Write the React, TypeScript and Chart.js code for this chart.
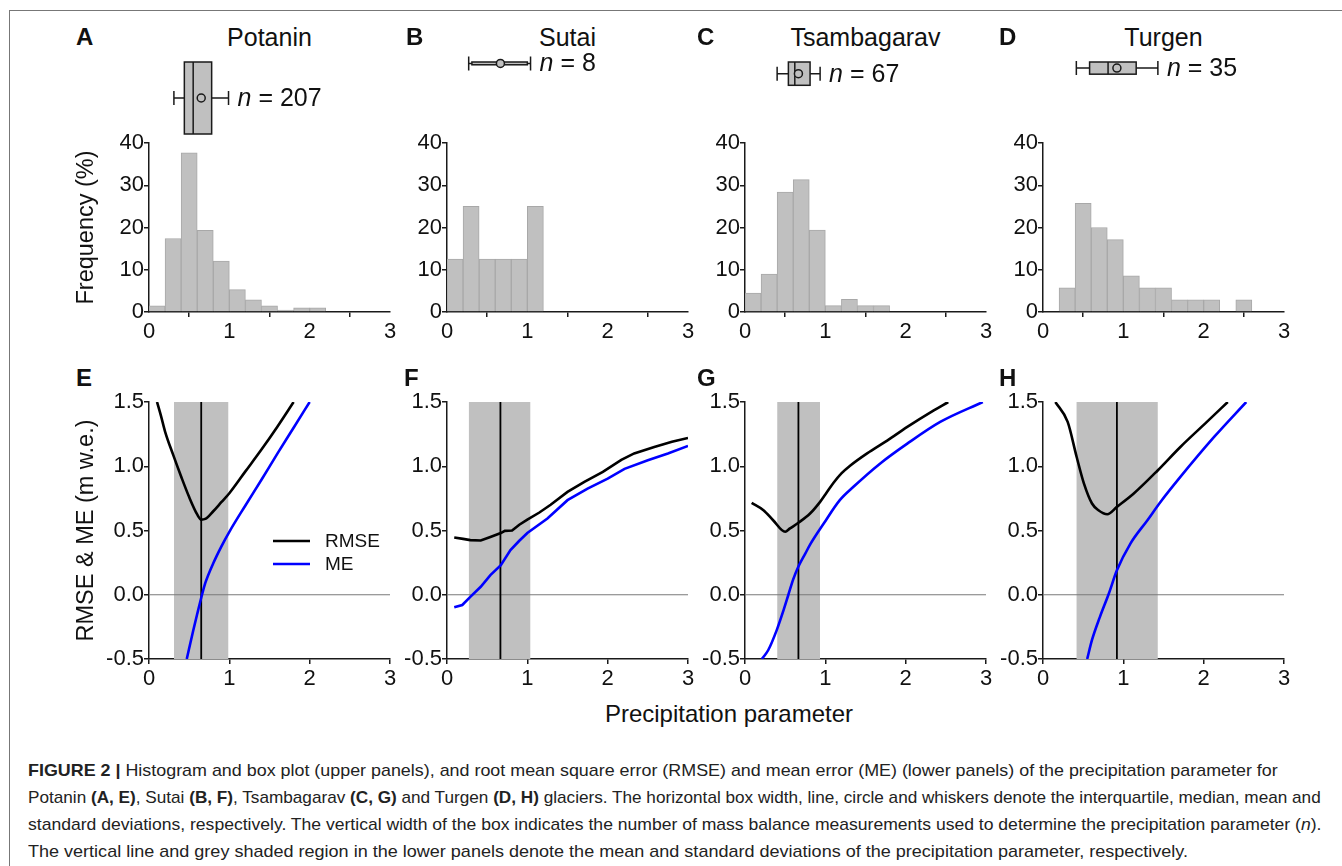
import React, { useEffect, useLayoutEffect, useRef } from 'react';
import { Chart, registerables } from 'chart.js';
Chart.register(...registerables);

const FONT = "'Liberation Sans', Arial, Helvetica, sans-serif";
const AXIS = '#1a1a1a';
const TXT = '#111111';
const BAR = '#c0c0c0';
const BAR_EDGE = '#a8a8a8';

// ---------------- data ----------------
const glaciers = ['Potanin', 'Sutai', 'Tsambagarav', 'Turgen'];
const upperLetters = ['A', 'B', 'C', 'D'];
const lowerLetters = ['E', 'F', 'G', 'H'];
const sampleCounts = [207, 8, 67, 35];

const binCenters = [0.1, 0.3, 0.5, 0.7, 0.9, 1.1, 1.3, 1.5, 1.7, 1.9, 2.1, 2.3, 2.5, 2.7, 2.9];
const freqPotanin = [1.45, 17.39, 37.68, 19.32, 12.08, 5.31, 2.9, 1.45, 0.48, 0.97, 0.97, 0, 0, 0, 0];
const freqSutai = [12.5, 25, 12.5, 12.5, 12.5, 25, 0, 0, 0, 0, 0, 0, 0, 0, 0];
const freqTsambagarav = [4.48, 8.96, 28.36, 31.34, 19.4, 1.49, 2.99, 1.49, 1.49, 0, 0, 0, 0, 0, 0];
const freqTurgen = [0, 5.71, 25.71, 20.0, 17.14, 8.57, 5.71, 5.71, 2.86, 2.86, 2.86, 0, 2.86, 0, 0];
const frequencies = [freqPotanin, freqSutai, freqTsambagarav, freqTurgen];

// box plot statistics (precipitation parameter)
const paramMean = [0.65, 0.665, 0.665, 0.92];
const sdLow = [0.31, 0.27, 0.4, 0.415];
const sdHigh = [0.99, 1.04, 0.935, 1.43];
const quart1 = [0.44, 0.31, 0.54, 0.58];
const medians = [0.55, 0.65, 0.62, 0.81];
const quart3 = [0.78, 1.0, 0.81, 1.16];

// RMSE / ME curves
const rmseXPotanin = [0.1, 0.15, 0.2, 0.3, 0.4, 0.5, 0.6, 0.65, 0.7, 0.8, 0.9, 1.0, 1.2, 1.4, 1.6, 1.8];
const rmseYPotanin = [1.5, 1.39, 1.27, 1.09, 0.92, 0.76, 0.625, 0.585, 0.59, 0.65, 0.72, 0.79, 0.96, 1.13, 1.31, 1.5];
const meXPotanin = [0.47, 0.55, 0.6, 0.66, 0.7, 0.8, 0.9, 1.0, 1.2, 1.4, 1.6, 1.8, 2.0];
const meYPotanin = [-0.5, -0.28, -0.15, 0.0, 0.09, 0.245, 0.375, 0.49, 0.695, 0.895, 1.1, 1.3, 1.5];

const rmseXSutai = [0.09, 0.2, 0.29, 0.42, 0.54, 0.67, 0.72, 0.81, 0.9, 1.0, 1.15, 1.29, 1.5, 1.71, 1.94, 2.17, 2.33, 2.58, 2.8, 3.0];
const rmseYSutai = [0.446, 0.435, 0.425, 0.422, 0.45, 0.48, 0.497, 0.5, 0.545, 0.585, 0.64, 0.7, 0.8, 0.878, 0.956, 1.05, 1.1, 1.15, 1.19, 1.22];
const meXSutai = [0.09, 0.19, 0.29, 0.42, 0.54, 0.67, 0.79, 0.9, 1.0, 1.25, 1.5, 1.75, 2.0, 2.21, 2.5, 2.75, 3.0];
const meYSutai = [-0.098, -0.08, -0.016, 0.062, 0.153, 0.23, 0.347, 0.42, 0.48, 0.593, 0.736, 0.826, 0.904, 0.98, 1.047, 1.1, 1.158];

const rmseXTsambagarav = [0.083, 0.23, 0.35, 0.5, 0.56, 0.665, 0.81, 0.935, 1.0, 1.1, 1.2, 1.3, 1.52, 1.77, 2.02, 2.35, 2.53];
const rmseYTsambagarav = [0.715, 0.658, 0.58, 0.49, 0.516, 0.56, 0.632, 0.723, 0.78, 0.87, 0.945, 1.0, 1.1, 1.2, 1.306, 1.435, 1.5];
const meXTsambagarav = [0.21, 0.29, 0.395, 0.48, 0.54, 0.6, 0.665, 0.75, 0.81, 0.98, 1.18, 1.35, 1.68, 2.02, 2.43, 2.96];
const meYTsambagarav = [-0.5, -0.43, -0.275, -0.12, 0.0, 0.12, 0.22, 0.32, 0.39, 0.554, 0.736, 0.84, 1.02, 1.176, 1.345, 1.5];

const rmseXTurgen = [0.154, 0.307, 0.42, 0.51, 0.61, 0.69, 0.8, 0.92, 1.13, 1.43, 1.71, 2.04, 2.3];
const rmseYTurgen = [1.5, 1.345, 1.07, 0.865, 0.71, 0.658, 0.627, 0.684, 0.788, 0.969, 1.15, 1.345, 1.5];
const meXTurgen = [0.55, 0.61, 0.71, 0.82, 0.92, 1.09, 1.3, 1.46, 1.71, 2.13, 2.53];
const meYTurgen = [-0.5, -0.352, -0.17, 0.01, 0.19, 0.4, 0.58, 0.72, 0.917, 1.228, 1.5];

const rmseX = [rmseXPotanin, rmseXSutai, rmseXTsambagarav, rmseXTurgen];
const rmseY = [rmseYPotanin, rmseYSutai, rmseYTsambagarav, rmseYTurgen];
const meX = [meXPotanin, meXSutai, meXTsambagarav, meXTurgen];
const meY = [meYPotanin, meYSutai, meYTsambagarav, meYTurgen];
const curveTension = [0.35, 0, 0.35, 0.35];

const xTicks = [0, 1, 2, 3];
const freqTicks = [0, 10, 20, 30, 40];
const errTicks = [-0.5, 0, 0.5, 1, 1.5];
const seriesLabels = ['RMSE', 'ME'];
const seriesColors = ['#000000', '#0000ff'];

// ---------------- layout ----------------
const PLOT_LEFT = [149, 447, 745, 1043];
const PLOT_W = 241;
const Y_AXIS_W = 80;
const X_AXIS_H = 30;
const UP_TOP = 20;
const UP_H = 330;
const LOW_TOP = 360;
const LOW_H = 337;
const BOX_TOP = 42; // within upper canvas
const BOX_PX_PER_N = 72 / 207;
const CAP = 7;
const TICK_SIZE = 22;

const zip = (xs: number[], ys: number[]) => xs.map((x, i) => ({ x, y: ys[i] }));

function xAxis() {
  return {
    type: 'linear',
    min: 0,
    max: 3,
    offset: false,
    afterBuildTicks: (s: any) => { s.ticks = xTicks.map((v) => ({ value: v })); },
    afterFit: (s: any) => { s.height = X_AXIS_H; },
    border: { display: true, color: AXIS, width: 1.5 },
    grid: { display: true, drawOnChartArea: false, drawTicks: true, tickLength: 5, color: AXIS, lineWidth: 1.5 },
    ticks: { color: TXT, font: { family: FONT, size: TICK_SIZE }, padding: 2, maxRotation: 0, autoSkip: false, callback: (v: any) => String(v) },
  };
}

function yAxis(min: number, max: number, ticks: number[], fmt: (v: number) => string, title?: string) {
  return {
    type: 'linear',
    min,
    max,
    afterBuildTicks: (s: any) => { s.ticks = ticks.map((v) => ({ value: v })); },
    afterFit: (s: any) => { s.width = Y_AXIS_W; },
    border: { display: true, color: AXIS, width: 1.5 },
    grid: { display: true, drawOnChartArea: false, drawTicks: true, tickLength: 5, color: AXIS, lineWidth: 1.5 },
    ticks: { color: TXT, font: { family: FONT, size: TICK_SIZE }, padding: 0, autoSkip: false, callback: (v: any) => fmt(Number(v)) },
    title: title
      ? { display: true, text: title, color: TXT, font: { family: FONT, size: 23.5 }, padding: { top: 3, bottom: 0 } }
      : { display: false },
  };
}

function boxPlotPlugin(i: number) {
  return {
    id: 'boxplot' + i,
    afterDraw(chart: any) {
      const ctx = chart.ctx;
      const sx = chart.scales.x;
      const px = (v: number) => sx.getPixelForValue(v);
      const h = sampleCounts[i] * BOX_PX_PER_N;
      const cy = BOX_TOP + h / 2;
      ctx.save();
      ctx.strokeStyle = AXIS;
      ctx.lineWidth = 1.5;
      ctx.beginPath();
      ctx.moveTo(px(sdLow[i]), cy);
      ctx.lineTo(px(quart1[i]), cy);
      ctx.moveTo(px(quart3[i]), cy);
      ctx.lineTo(px(sdHigh[i]), cy);
      ctx.moveTo(px(sdLow[i]), cy - CAP);
      ctx.lineTo(px(sdLow[i]), cy + CAP);
      ctx.moveTo(px(sdHigh[i]), cy - CAP);
      ctx.lineTo(px(sdHigh[i]), cy + CAP);
      ctx.stroke();
      const x1 = px(quart1[i]);
      const x3 = px(quart3[i]);
      ctx.fillStyle = BAR;
      ctx.fillRect(x1, BOX_TOP, x3 - x1, h);
      ctx.strokeRect(x1, BOX_TOP, x3 - x1, h);
      ctx.beginPath();
      ctx.moveTo(px(medians[i]), BOX_TOP);
      ctx.lineTo(px(medians[i]), BOX_TOP + h);
      ctx.stroke();
      ctx.beginPath();
      ctx.arc(px(paramMean[i]), cy, 4, 0, Math.PI * 2);
      ctx.fillStyle = BAR;
      ctx.fill();
      ctx.stroke();
      // n label
      ctx.fillStyle = TXT;
      ctx.textBaseline = 'middle';
      ctx.textAlign = 'left';
      let tx = px(sdHigh[i]) + 9;
      ctx.font = `italic 25px ${FONT}`;
      ctx.fillText('n', tx, cy + 1);
      tx += ctx.measureText('n').width;
      ctx.font = `25px ${FONT}`;
      ctx.fillText(' = ' + sampleCounts[i], tx, cy + 1);
      ctx.restore();
    },
  };
}

const legendPlugin = {
  id: 'errLegend',
  afterDraw(chart: any) {
    const ctx = chart.ctx;
    ctx.save();
    ctx.font = `19px ${FONT}`;
    ctx.textBaseline = 'middle';
    ctx.textAlign = 'left';
    for (let k = 0; k < 2; k++) {
      const ds = chart.data.datasets[k];
      const y = 181 + k * 23;
      ctx.strokeStyle = ds.borderColor;
      ctx.lineWidth = 2.5;
      ctx.beginPath();
      ctx.moveTo(204, y);
      ctx.lineTo(241, y);
      ctx.stroke();
      ctx.fillStyle = TXT;
      ctx.fillText(ds.label, 256, y + 1);
    }
    ctx.restore();
  },
};

function upperConfig(i: number): any {
  return {
    type: 'bar',
    data: {
      datasets: [
        {
          label: glaciers[i],
          data: zip(binCenters, frequencies[i]),
          backgroundColor: BAR,
          borderColor: BAR_EDGE,
          borderWidth: 1,
          barPercentage: 1,
          categoryPercentage: 1,
        },
      ],
    },
    options: {
      responsive: false,
      animation: false,
      events: [],
      layout: { padding: { top: 123, bottom: 8, left: 0, right: 25 } },
      plugins: { legend: { display: false }, tooltip: { enabled: false } },
      scales: {
        x: xAxis(),
        y: yAxis(0, 40, freqTicks, (v) => String(v), i === 0 ? 'Frequency (%)' : undefined),
      },
    },
    plugins: [boxPlotPlugin(i)],
  };
}

function lowerConfig(i: number): any {
  const lineOpts = (color: string, width: number) => ({
    borderColor: color,
    borderWidth: width,
    pointRadius: 0,
    fill: false,
  });
  const curve = curveTension[i]
    ? { tension: curveTension[i], cubicInterpolationMode: 'monotone' }
    : { tension: 0 };
  const datasets: any[] = [
    { label: seriesLabels[0], data: zip(rmseX[i], rmseY[i]), ...lineOpts(seriesColors[0], 2.6), ...curve },
    { label: seriesLabels[1], data: zip(meX[i], meY[i]), ...lineOpts(seriesColors[1], 2.6), ...curve },
    { label: 'mean', data: [{ x: paramMean[i], y: -0.5 }, { x: paramMean[i], y: 1.5 }], ...lineOpts('#000000', 1.8) },
    { label: 'zero', data: [{ x: 0, y: 0 }, { x: 3, y: 0 }], ...lineOpts('#7a7a7a', 1.2) },
    {
      label: 'sd',
      data: [{ x: sdLow[i], y: 1.5 }, { x: sdHigh[i], y: 1.5 }],
      borderColor: 'rgba(0,0,0,0)',
      borderWidth: 0,
      pointRadius: 0,
      backgroundColor: BAR,
      fill: { value: -0.5 },
    },
  ];
  return {
    type: 'line',
    data: { datasets },
    options: {
      responsive: false,
      animation: false,
      events: [],
      layout: { padding: { top: 42, bottom: 8, left: 0, right: 25 } },
      plugins: { legend: { display: false }, tooltip: { enabled: false } },
      scales: {
        x: xAxis(),
        y: yAxis(-0.5, 1.5, errTicks, (v) => v.toFixed(1), i === 0 ? 'RMSE & ME (m w.e.)' : undefined),
      },
    },
    plugins: i === 0 ? [legendPlugin] : [],
  };
}

function ChartBox({ left, top, width, height, config }: { left: number; top: number; width: number; height: number; config: () => any }) {
  const ref = useRef<HTMLCanvasElement>(null);
  useEffect(() => {
    const chart = new Chart(ref.current as HTMLCanvasElement, config());
    return () => chart.destroy();
  }, []);
  return (
    <canvas
      ref={ref}
      width={width}
      height={height}
      style={{ position: 'absolute', left, top, width, height }}
    />
  );
}

function FitLine({ left, top, width, children }: { left: number; top: number; width: number; children: any }) {
  const ref = useRef<HTMLSpanElement>(null);
  useLayoutEffect(() => {
    const el = ref.current as HTMLSpanElement;
    const w = el.offsetWidth;
    if (w > 0) el.style.transform = `scaleX(${width / w})`;
  }, []);
  return (
    <span
      ref={ref}
      style={{
        position: 'absolute', left, top, whiteSpace: 'nowrap', transformOrigin: '0 0', display: 'inline-block',
        fontSize: 17, lineHeight: '20px', fontFamily: FONT, color: '#222',
      }}
    >
      {children}
    </span>
  );
}

const upperLetterLeft = [76, 406, 697, 999];
const lowerLetterLeft = [76, 404, 697, 999];

export default function App() {
  return (
    <div style={{ position: 'absolute', left: 0, top: 0, width: 1342, height: 866, background: '#fff', overflow: 'hidden', fontFamily: FONT }}>
      <div style={{ position: 'absolute', left: 9, top: 10, width: 1340, height: 870, borderLeft: '1px solid #777', borderTop: '1px solid #777' }} />
      {glaciers.map((g, i) => (
        <React.Fragment key={g}>
          <div style={{ position: 'absolute', left: PLOT_LEFT[i] + PLOT_W / 2 - 100, width: 200, top: 37 - 15, lineHeight: '30px', textAlign: 'center', fontSize: 25, color: TXT }}>{g}</div>
          <div style={{ position: 'absolute', left: upperLetterLeft[i], top: 37 - 15, lineHeight: '30px', fontSize: 24, fontWeight: 'bold', color: TXT }}>{upperLetters[i]}</div>
          <div style={{ position: 'absolute', left: lowerLetterLeft[i], top: 378 - 15, lineHeight: '30px', fontSize: 24, fontWeight: 'bold', color: TXT }}>{lowerLetters[i]}</div>
          <ChartBox left={PLOT_LEFT[i] - Y_AXIS_W} top={UP_TOP} width={Y_AXIS_W + PLOT_W + 25} height={UP_H} config={() => upperConfig(i)} />
          <ChartBox left={PLOT_LEFT[i] - Y_AXIS_W} top={LOW_TOP} width={Y_AXIS_W + PLOT_W + 25} height={LOW_H} config={() => lowerConfig(i)} />
        </React.Fragment>
      ))}
      <div style={{ position: 'absolute', left: 529, width: 400, top: 714 - 15, lineHeight: '30px', textAlign: 'center', fontSize: 24, color: TXT }}>Precipitation parameter</div>
      <FitLine left={28} top={761} width={1250}>
        <b>FIGURE 2 |</b> Histogram and box plot (upper panels), and root mean square error (RMSE) and mean error (ME) (lower panels) of the precipitation parameter for
      </FitLine>
      <FitLine left={28} top={788} width={1293}>
        Potanin <b>(A, E)</b>, Sutai <b>(B, F)</b>, Tsambagarav <b>(C, G)</b> and Turgen <b>(D, H)</b> glaciers. The horizontal box width, line, circle and whiskers denote the interquartile, median, mean and
      </FitLine>
      <FitLine left={28} top={815} width={1293}>
        standard deviations, respectively. The vertical width of the box indicates the number of mass balance measurements used to determine the precipitation parameter (<i>n</i>).
      </FitLine>
      <FitLine left={28} top={842} width={1160}>
        The vertical line and grey shaded region in the lower panels denote the mean and standard deviations of the precipitation parameter, respectively.
      </FitLine>
    </div>
  );
}
